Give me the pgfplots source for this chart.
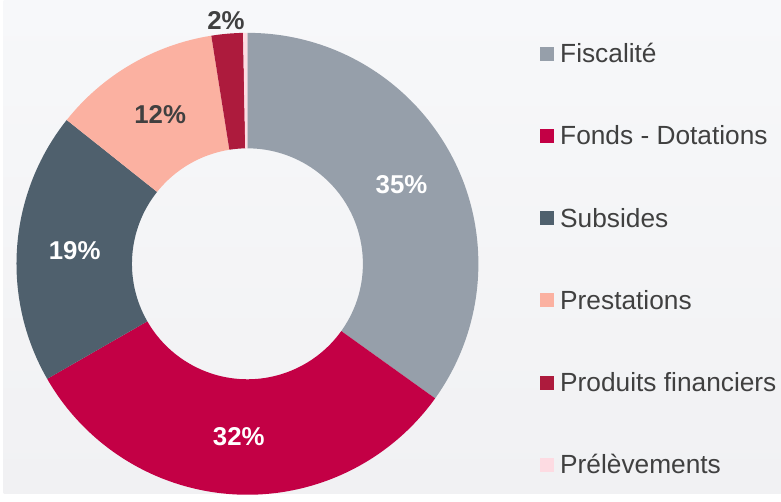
\documentclass[border=0pt]{standalone}
\usepackage{pgfplots}
\pgfplotsset{compat=1.18}
\usepackage{pgfplotstable}
\usepackage{fontspec}
\setmainfont{Liberation Sans}
\definecolor{c0}{HTML}{969FAA}
\definecolor{c1}{HTML}{C30045}
\definecolor{c2}{HTML}{4F606D}
\definecolor{c3}{HTML}{FBB1A1}
\definecolor{c4}{HTML}{AD1B3D}
\definecolor{c5}{HTML}{FDDBE2}
\definecolor{txt}{HTML}{404040}
\definecolor{bgtop}{HTML}{F7F8FA}
\definecolor{bgbot}{HTML}{F1F1F3}

% lab: 0 = no label, 1 = inside white, 2 = inside dark, 3 = outside dark
\pgfplotstableread[col sep=comma]{
name,value,lab
Fiscalité,34.9,1
Fonds - Dotations,31.8,1
Subsides,19.0,1
Prestations,11.8,2
Produits financiers,2.2,3
Prélèvements,0.3,0
}\shares

\begin{document}
\begin{tikzpicture}
\begin{axis}[x=1bp,y=1bp,xmin=0,xmax=781,ymin=0,ymax=496,hide axis,clip=false]
\addplot[draw=none] coordinates {(0,0)};
\pgfplotsextra{
  \fill[top color=bgtop,bottom color=bgbot] (axis cs:0,0) rectangle (axis cs:781,496);
  \xdef\angA{90}
  \pgfplotstablegetrowsof{\shares}
  \pgfmathtruncatemacro\last{\pgfplotsretval-1}
  \foreach \i in {0,...,\last}{
    \pgfplotstablegetelem{\i}{value}\of\shares \let\val\pgfplotsretval
    \pgfplotstablegetelem{\i}{name}\of\shares \let\nm\pgfplotsretval
    \pgfplotstablegetelem{\i}{lab}\of\shares \let\lb\pgfplotsretval
    \pgfmathsetmacro\angB{\angA-3.6*\val}
    \pgfmathsetmacro\angM{(\angA+\angB)/2}
    \fill[c\i] ([shift={(\angA:232bp)}]axis cs:245,231) arc[start angle=\angA,end angle=\angB,radius=232bp]
       -- ([shift={(\angB:116bp)}]axis cs:245,231) arc[start angle=\angB,end angle=\angA,radius=116bp] -- cycle;
    \ifcase\lb
    \or
      \node[text=white,font=\fontsize{26}{30}\selectfont\bfseries] at ([shift={(\angM:174bp)}]axis cs:245,231) {\pgfmathprintnumber[fixed,precision=0,assume math mode=true]{\val}\%};
    \or
      \node[text=txt,font=\fontsize{26}{30}\selectfont\bfseries] at ([shift={(\angM:174bp)}]axis cs:245,231) {\pgfmathprintnumber[fixed,precision=0,assume math mode=true]{\val}\%};
    \or
      \node[text=txt,font=\fontsize{26}{30}\selectfont\bfseries] at ([shift={(\angM:245bp)}]axis cs:245,231) {\pgfmathprintnumber[fixed,precision=0,assume math mode=true]{\val}\%};
    \fi
    \pgfmathsetmacro\yb{433-82.6*\i}
    \pgfmathsetmacro\ys{435-82.6*\i}
    \pgfmathsetmacro\yt{449-82.6*\i}
    \fill[c\i] (axis cs:539,\ys) rectangle (axis cs:553,\yt);
    \node[anchor=base west,inner sep=0pt,text=txt,font=\fontsize{26.5}{30}\selectfont] at (axis cs:559,\yb) {\nm};
    \xdef\angA{\angB}
  }
}
\end{axis}
\end{tikzpicture}
\end{document}
